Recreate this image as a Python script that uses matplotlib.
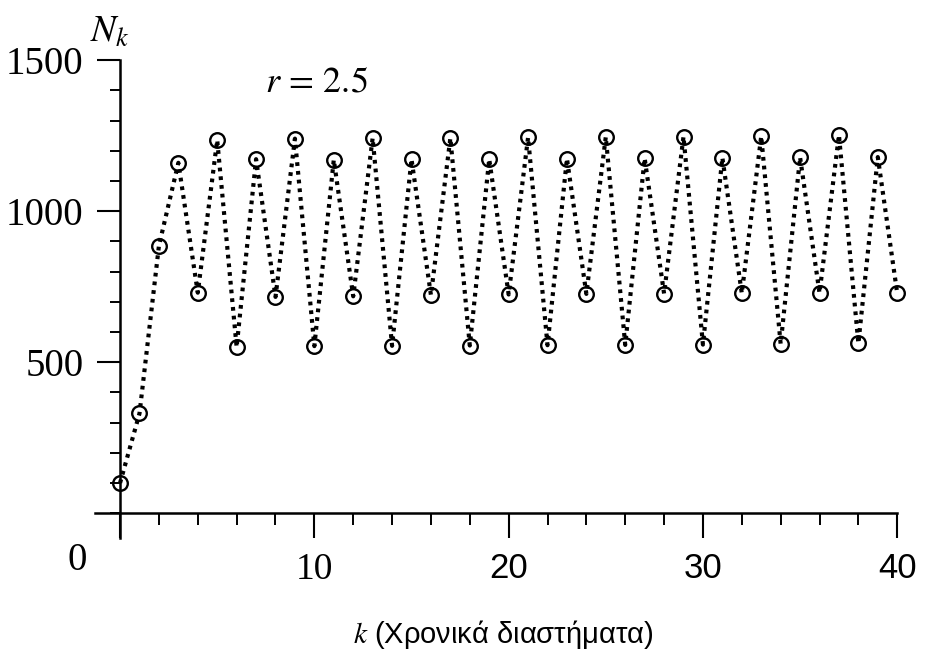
import matplotlib
matplotlib.use('Agg')
import matplotlib.pyplot as plt
from matplotlib.ticker import MultipleLocator, FixedLocator

plt.rcParams['mathtext.fontset'] = 'stix'

# Nk values, k = 0 .. 40
k = list(range(41))
N = [100, 330, 885, 1160, 730, 1235, 550, 1172, 716, 1240,
     553, 1170, 718, 1242, 554, 1172, 722, 1242, 555, 1172,
     724, 1244, 556, 1174, 726, 1246, 557, 1175, 727, 1247,
     558, 1177, 728, 1248, 560, 1178, 729, 1252, 562, 1179,
     728]
xticks = [10, 20, 30, 40]
xtick_labels = ['10', '20', '30', '40']
yticks = [500, 1000, 1500]
ytick_labels = ['500', '1000', '1500']

W, H = 932, 656
fig = plt.figure(figsize=(W / 100, H / 100), dpi=100)
ax = fig.add_axes([95 / W, (H - 540) / H, 810 / W, 485 / H])
ax.set_xlim(-1.29, 40.4)
ax.set_ylim(-89, 1517)

ax.plot(k, N, color='black', lw=3.0, dashes=(0.9, 1.2),
        marker='o', ms=10.5, mfc='none', mec='black', mew=1.7)

# axes crossing at the origin, like the original
for s in ['top', 'right']:
    ax.spines[s].set_visible(False)
ax.spines['left'].set_position(('data', 0))
ax.spines['bottom'].set_position(('data', 0))
ax.spines['left'].set_bounds(-83, 1500)
ax.spines['bottom'].set_bounds(-1.29, 40)
ax.spines['left'].set_linewidth(1.8)
ax.spines['bottom'].set_linewidth(1.8)

ax.xaxis.set_major_locator(FixedLocator([0] + xticks))
ax.set_xticklabels([''] + xtick_labels)
ax.xaxis.set_minor_locator(MultipleLocator(2))
ax.yaxis.set_major_locator(FixedLocator(yticks))
ax.set_yticklabels(ytick_labels)
ax.yaxis.set_minor_locator(MultipleLocator(100))

ax.tick_params(axis='x', which='major', direction='out', length=18, width=1.5, pad=10,
               labelsize=27)
ax.tick_params(axis='x', which='minor', direction='out', length=8.5, width=1.4)
ax.tick_params(axis='y', which='major', direction='out', length=16.5, width=1.5, pad=10,
               labelsize=28)
ax.tick_params(axis='y', which='minor', direction='out', length=7, width=1.4)

for lab in ax.get_yticklabels():
    lab.set_fontfamily('Liberation Serif')
for lab in ax.get_xticklabels():
    if lab.get_text() in ('20', '30', '40'):
        lab.set_fontfamily('Liberation Sans')
        lab.set_fontsize(25)
    else:
        lab.set_fontfamily('Liberation Serif')

# origin label sits left of the axis
fig.text(77.5 / W, 1 - 560 / H, '0', fontsize=28, family='Liberation Serif',
         ha='center', va='center')

fig.text(90 / W, 1 - 42 / H, '$N_k$', fontsize=27, ha='left', va='baseline')
fig.text(265 / W, 1 - 92 / H, '$r\\,=\\,2.5$', fontsize=26, ha='left', va='baseline')
fig.text(353 / W, 1 - 643 / H, '$k$ (Χρονικά διαστήματα)', fontsize=21,
         family='Liberation Sans', ha='left', va='baseline')

fig.savefig('out.png', dpi=100)
